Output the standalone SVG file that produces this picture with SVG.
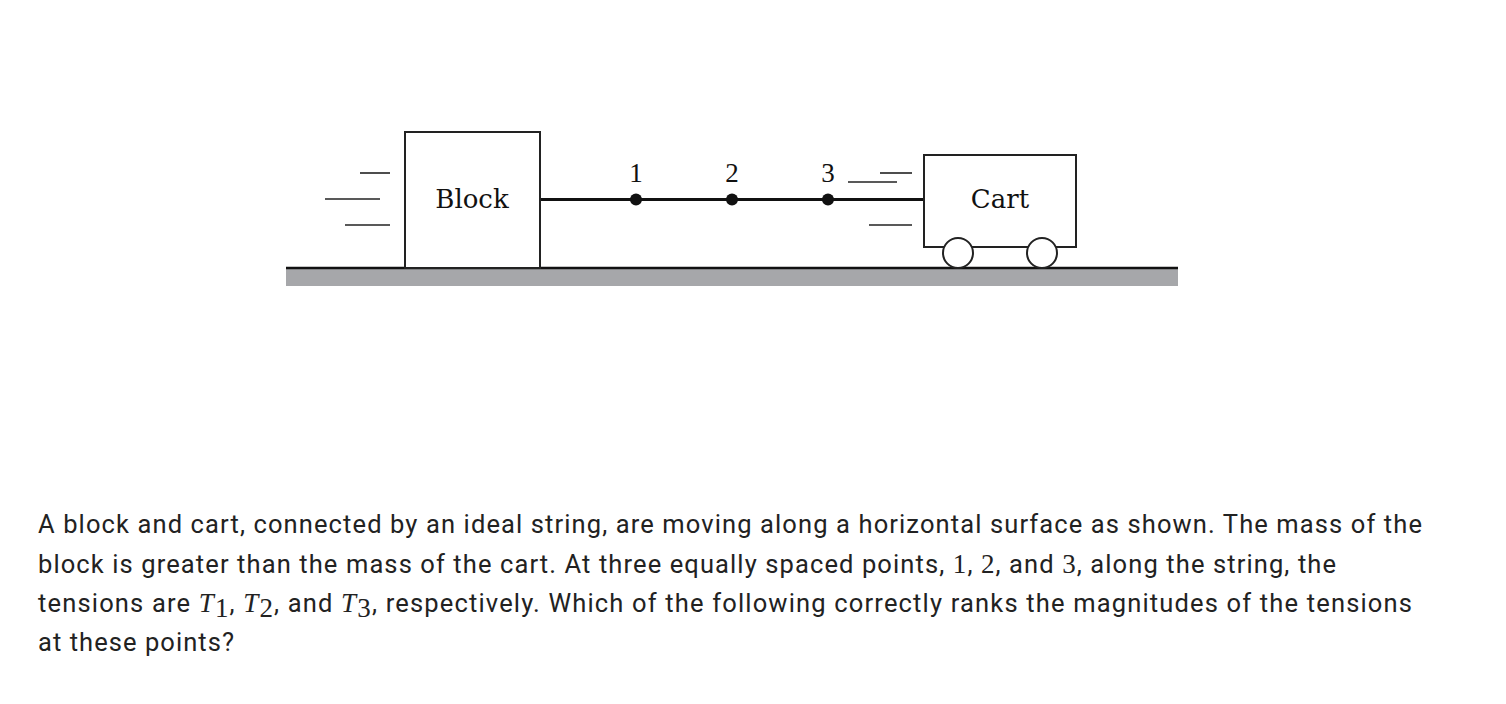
<svg xmlns="http://www.w3.org/2000/svg" width="1506" height="704" viewBox="0 0 1506 704">
<style>
.lbl{font-family:"DejaVu Serif","Liberation Serif",serif;font-size:26px;fill:#111}
.num{font-family:"Liberation Serif",serif;font-size:27px;fill:#111}
.box{fill:#fff;stroke:#222;stroke-width:2}
.mv{stroke:#222;stroke-width:1.6}
.txt{font-family:Roboto,"Liberation Sans",sans-serif;font-size:25.5px;fill:#222}
.m{font-family:"Liberation Serif",serif;font-size:27px}
</style>
<rect width="1506" height="704" fill="#fff"/>
<g id="ground"><rect x="286" y="268" width="892" height="18" fill="#a6a7aa"/><line x1="286" y1="268" x2="1178" y2="268" stroke="#111" stroke-width="2.5"/></g>
<g id="connectors">
<line x1="540" y1="199.5" x2="924" y2="199.5" stroke="#111" stroke-width="3"/>
<circle cx="636" cy="199.5" r="6" fill="#111"/>
<circle cx="732" cy="199.5" r="6" fill="#111"/>
<circle cx="828" cy="199.5" r="6" fill="#111"/>
</g>
<g id="labels">
<text class="num" x="636" y="182" text-anchor="middle">1</text>
<text class="num" x="732" y="182" text-anchor="middle">2</text>
<text class="num" x="828" y="182" text-anchor="middle">3</text>
</g>
<g id="motion">
<line class="mv" x1="360" y1="173" x2="390" y2="173"/>
<line class="mv" x1="325" y1="199" x2="380" y2="199"/>
<line class="mv" x1="345" y1="225" x2="390" y2="225"/>
<line class="mv" x1="880" y1="173" x2="912" y2="173"/>
<line class="mv" x1="848" y1="182" x2="897" y2="182"/>
<line class="mv" x1="869" y1="225" x2="912" y2="225"/>
</g>
<g id="block"><rect class="box" x="405" y="132" width="135" height="136"/><text class="lbl" x="472" y="208" text-anchor="middle">Block</text></g>
<g id="cart"><rect class="box" x="924" y="155" width="152" height="92"/><text class="lbl" x="1000" y="208" text-anchor="middle">Cart</text>
<circle class="box" cx="958" cy="253" r="15"/><circle class="box" cx="1042" cy="253" r="15"/></g>
<g id="question" class="txt">
<text x="38" y="533" textLength="1384" lengthAdjust="spacing">A block and cart, connected by an ideal string, are moving along a horizontal surface as shown. The mass of the</text>
<text x="38" y="573" textLength="1298" lengthAdjust="spacing">block is greater than the mass of the cart. At three equally spaced points, <tspan class="m">1</tspan>, <tspan class="m">2</tspan>, and <tspan class="m">3</tspan>, along the string, the</text>
<text x="38" y="612" textLength="1374" lengthAdjust="spacing">tensions are <tspan class="m" font-style="italic">T</tspan><tspan class="m" font-size="19" dy="5">1</tspan><tspan dy="-5">, </tspan><tspan class="m" font-style="italic">T</tspan><tspan class="m" font-size="19" dy="5">2</tspan><tspan dy="-5">, and </tspan><tspan class="m" font-style="italic">T</tspan><tspan class="m" font-size="19" dy="5">3</tspan><tspan dy="-5">, respectively. Which of the following correctly ranks the magnitudes of the tensions</tspan></text>
<text x="38" y="651" textLength="196" lengthAdjust="spacing">at these points?</text>
</g>
</svg>
